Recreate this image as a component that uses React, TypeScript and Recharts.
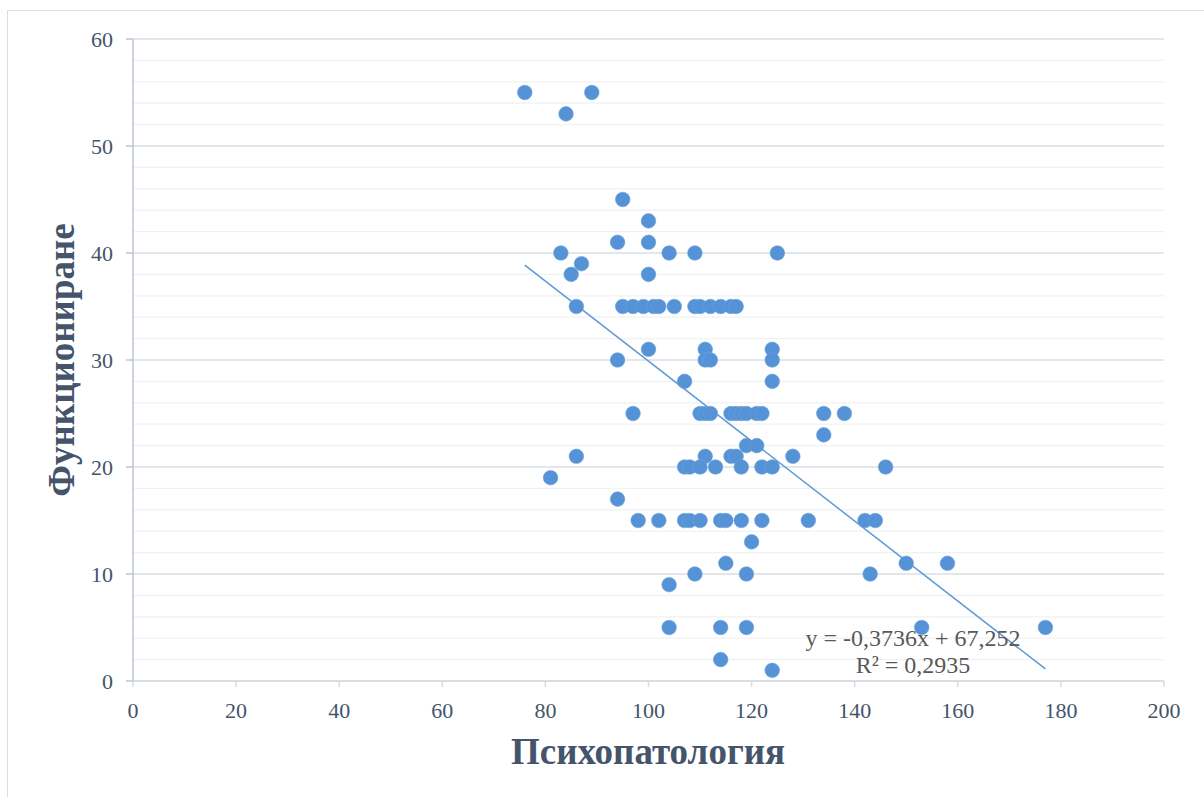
import React from 'react';
import { ScatterChart, Scatter, XAxis, YAxis, CartesianGrid } from 'recharts';

// Психопатология (x) and Функциониране (y)
const psychopathology = [
  76, 89, 84, 95, 100, 94, 100,
  83, 104, 109, 125,
  87, 85, 100,
  86, 95, 97, 99, 101, 102, 105, 109, 110, 112, 114, 116, 117,
  100, 111, 124,
  94, 111, 112, 124,
  107, 124,
  97, 110, 111, 112, 116, 117, 118, 119, 121, 122, 134, 138,
  134,
  119, 121,
  86, 111, 116, 117, 128,
  107, 108, 110, 113, 118, 122, 124, 146,
  81,
  94,
  98, 102, 107, 108, 110, 114, 115, 118, 122, 131, 142, 144,
  120,
  115, 150, 158,
  109, 119, 143,
  104,
  104, 114, 119, 153, 177,
  114,
  124,
];
const functioning = [
  55, 55, 53, 45, 43, 41, 41,
  40, 40, 40, 40,
  39, 38, 38,
  35, 35, 35, 35, 35, 35, 35, 35, 35, 35, 35, 35, 35,
  31, 31, 31,
  30, 30, 30, 30,
  28, 28,
  25, 25, 25, 25, 25, 25, 25, 25, 25, 25, 25, 25,
  23,
  22, 22,
  21, 21, 21, 21, 21,
  20, 20, 20, 20, 20, 20, 20, 20,
  19,
  17,
  15, 15, 15, 15, 15, 15, 15, 15, 15, 15, 15, 15,
  13,
  11, 11, 11,
  10, 10, 10,
  9,
  5, 5, 5, 5, 5,
  2,
  1,
];

const xTicks = [0, 20, 40, 60, 80, 100, 120, 140, 160, 180, 200];
const yTicks = [0, 10, 20, 30, 40, 50, 60];
const yMinorTicks = [2, 4, 6, 8, 12, 14, 16, 18, 22, 24, 26, 28, 32, 34, 36, 38, 42, 44, 46, 48, 52, 54, 56, 58];

// Linear trendline as printed on the chart
const trendSlope = -0.3736;
const trendIntercept = 67.252;
const equationText = 'y = -0,3736x + 67,252';
const r2Text = 'R² = 0,2935';

const xTitle = 'Психопатология';
const yTitle = 'Функциониране';

const points = psychopathology.map((x, i) => ({ x, y: functioning[i] }));
const xMin = Math.min(...psychopathology);
const xMax = Math.max(...psychopathology);
const trend = [
  { x: xMin, y: trendSlope * xMin + trendIntercept },
  { x: xMax, y: trendSlope * xMax + trendIntercept },
];

const DOT = '#5592D6';
const TEXT = '#44546A';
const FONT = '"Liberation Serif", "Times New Roman", serif';

const Dot = (props: any) => {
  const { cx, cy } = props;
  if (cx == null || cy == null) return <g />;
  return <circle cx={cx} cy={cy} r={7.3} fill={DOT} stroke="#6BA3DC" strokeWidth={0.6} />;
};

export default function App() {
  return (
    <div style={{ position: 'absolute', left: 0, top: 0, width: 1204, height: 797, background: '#fff', overflow: 'hidden' }}>
      <div style={{ position: 'absolute', left: 7, top: 10, width: 1220, height: 820, border: '1.5px solid #D9DDE5', boxSizing: 'border-box' }} />
      <div style={{ position: 'absolute', left: 0, top: 0 }}>
        <ScatterChart width={1204} height={797} margin={{ top: 39, right: 40, left: 73, bottom: 76 }}>
          <CartesianGrid vertical={false} horizontalValues={yMinorTicks} stroke="#F0F1F3" strokeWidth={1.3} />
          <CartesianGrid vertical={false} horizontalValues={yTicks} stroke="#DADEE6" strokeWidth={1.5} />
          <XAxis
            type="number"
            dataKey="x"
            domain={[0, 200]}
            ticks={xTicks}
            interval={0}
            height={40}
            tickSize={6}
            tickMargin={15}
            axisLine={{ stroke: '#D6DBE4', strokeWidth: 1.5 }}
            tickLine={{ stroke: '#D6DBE4', strokeWidth: 1.5 }}
            tick={{ fontSize: 22, fill: TEXT, fontFamily: FONT }}
          />
          <YAxis
            type="number"
            dataKey="y"
            domain={[0, 60]}
            ticks={yTicks}
            interval={0}
            width={60}
            tickSize={7}
            tickMargin={13}
            axisLine={{ stroke: '#BCC6D6', strokeWidth: 1.5 }}
            tickLine={{ stroke: '#BCC6D6', strokeWidth: 1.5 }}
            tick={{ fontSize: 22, fill: TEXT, fontFamily: FONT }}
          />
          <Scatter data={trend} line={{ stroke: '#5B9BD5', strokeWidth: 1.5 }} shape={() => <g />} isAnimationActive={false} />
          <Scatter data={points} shape={Dot} isAnimationActive={false} />
        </ScatterChart>
      </div>
      <svg width={1204} height={797} style={{ position: 'absolute', left: 0, top: 0, pointerEvents: 'none' }}>
        <text x={913} y={646} textAnchor="middle" fontSize={24} fill="#595959" fontFamily={FONT}>{equationText}</text>
        <text x={913} y={673} textAnchor="middle" fontSize={24} fill="#595959" fontFamily={FONT}>{r2Text}</text>
        <text x={648} y={764} textAnchor="middle" fontSize={37} fontWeight="bold" fill={TEXT} fontFamily={FONT}>{xTitle}</text>
        <text x={74} y={360} transform="rotate(-90 74 360)" textAnchor="middle" fontSize={37} fontWeight="bold" fill={TEXT} fontFamily={FONT}>{yTitle}</text>
      </svg>
    </div>
  );
}
